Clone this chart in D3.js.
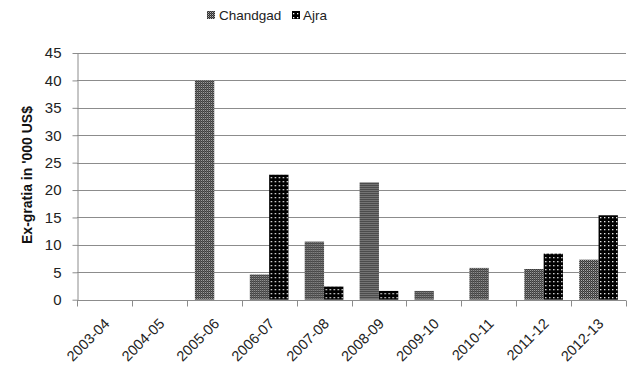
<!DOCTYPE html>
<html>
<head>
<meta charset="utf-8">
<script src="https://cdn.jsdelivr.net/npm/d3@7/dist/d3.min.js"></script>
<style>
  html, body { margin: 0; padding: 0; background: #fff; }
  svg { display: block; font-family: "Liberation Sans", Arial, sans-serif; }
</style>
</head>
<body>
<svg id="chart" width="630" height="372"></svg>
<script>
// Ex-gratia paid per year, in thousands of US$
const years = ["2003-04","2004-05","2005-06","2006-07","2007-08","2008-09","2009-10","2010-11","2011-12","2012-13"];
const seriesNames = ["Chandgad", "Ajra"];
const chandgad = [0, 0, 40, 4.6, 10.6, 21.4, 1.6, 5.8, 5.6, 7.3];
const ajra     = [0, 0, 0, 22.8, 2.4, 1.6, 0, 0, 8.4, 15.4];
const yTicks = [0, 5, 10, 15, 20, 25, 30, 35, 40, 45];

const svg = d3.select("#chart");
const margin = { left: 77, right: 4, top: 53, bottom: 73 };
const W = 630, H = 372;

// Fill patterns for the two series
const defs = svg.append("defs");
const pc = defs.append("pattern").attr("id", "pat-chandgad")
  .attr("patternUnits", "userSpaceOnUse").attr("width", 2).attr("height", 2);
pc.append("rect").attr("width", 2).attr("height", 2).attr("fill", "#2e2e2e");
pc.append("rect").attr("x", 0).attr("y", 0).attr("width", 1).attr("height", 1).attr("fill", "#b8b8b8");
pc.append("rect").attr("x", 1).attr("y", 1).attr("width", 1).attr("height", 1).attr("fill", "#6a6a6a");

const pa = defs.append("pattern").attr("id", "pat-ajra")
  .attr("patternUnits", "userSpaceOnUse").attr("width", 4).attr("height", 4);
pa.append("rect").attr("width", 4).attr("height", 4).attr("fill", "#000");
pa.append("rect").attr("x", 1).attr("y", 1).attr("width", 1.3).attr("height", 1.3).attr("fill", "#fff");

const fills = { Chandgad: "url(#pat-chandgad)", Ajra: "url(#pat-ajra)" };

const x0 = d3.scaleBand().domain(years).range([margin.left, W - margin.right]).paddingInner(0).paddingOuter(0);
const x1 = d3.scaleBand().domain(seriesNames).range([0, x0.bandwidth()]).paddingInner(0).paddingOuter(0.42);
const y = d3.scaleLinear().domain([0, 45]).range([H - margin.bottom + 0.7, margin.top]);

// Gridlines
svg.append("g").selectAll("line").data(yTicks.filter(t => t > 0)).join("line")
  .attr("x1", margin.left).attr("x2", W - margin.right)
  .attr("y1", d => Math.round(y(d)) + 0.5).attr("y2", d => Math.round(y(d)) + 0.5)
  .attr("stroke", "#8c8c8c").attr("stroke-width", 1);

// Bars
const rows = years.map((yr, i) => ({ year: yr, Chandgad: chandgad[i], Ajra: ajra[i] }));
svg.append("g").selectAll("g").data(rows).join("g")
  .attr("transform", d => `translate(${x0(d.year)},0)`)
  .selectAll("rect")
  .data(d => seriesNames.map(s => ({ key: s, value: d[s] })).filter(v => v.value > 0))
  .join("rect")
  .attr("x", d => x1(d.key))
  .attr("width", x1.bandwidth())
  .attr("y", d => y(d.value))
  .attr("height", d => y(0) - y(d.value))
  .attr("fill", d => fills[d.key]);

// Y axis
const yAxis = d3.axisLeft(y).tickValues(yTicks).tickSize(5).tickPadding(11).tickSizeOuter(0);
const gy = svg.append("g").attr("transform", `translate(${margin.left + 0.5},0)`).call(yAxis);
gy.select(".domain").attr("stroke", "#8c8c8c");
gy.selectAll(".tick line").attr("stroke", "#8c8c8c");
gy.selectAll(".tick text").attr("font-size", 15).attr("fill", "#222")
  .attr("font-family", "Liberation Sans, Arial, sans-serif");

// X axis with ticks at band boundaries
const gx = svg.append("g").attr("transform", `translate(0,${Math.round(y(0)) + 0.5})`);
gx.append("line").attr("x1", margin.left).attr("x2", W - margin.right)
  .attr("stroke", "#8c8c8c");
const bounds = years.map(d => x0(d)).concat([x0(years[years.length - 1]) + x0.bandwidth()]);
gx.selectAll("line.tk").data(bounds).join("line").attr("class", "tk")
  .attr("x1", d => Math.round(d) + 0.5).attr("x2", d => Math.round(d) + 0.5)
  .attr("y1", 0).attr("y2", 6).attr("stroke", "#8c8c8c");
gx.selectAll("text").data(years).join("text")
  .attr("transform", d => `translate(${x0(d) + x0.bandwidth() / 2 + 6},${24}) rotate(-45)`)
  .attr("text-anchor", "end")
  .attr("font-size", 14.5).attr("fill", "#222")
  .text(d => d);

// Y axis title
svg.append("text")
  .attr("transform", `translate(32,175) rotate(-90)`)
  .attr("text-anchor", "middle")
  .attr("font-size", 14).attr("font-weight", "bold").attr("fill", "#111")
  .text("Ex-gratia in '000 US$");

// Legend
const legend = svg.append("g");
const items = [
  { key: "Chandgad", sx: 207, tx: 219 },
  { key: "Ajra", sx: 292, tx: 303 }
];
items.forEach(it => {
  legend.append("rect").attr("x", it.sx).attr("y", 11).attr("width", 8).attr("height", 8)
    .attr("fill", fills[it.key]);
  legend.append("text").attr("x", it.tx).attr("y", 20).attr("font-size", 13.5)
    .attr("fill", "#222").text(it.key);
});
</script>
</body>
</html>
